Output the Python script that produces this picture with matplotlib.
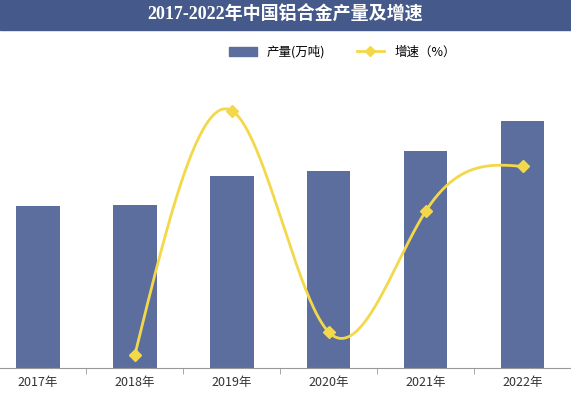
import numpy as np
import matplotlib
matplotlib.use("Agg")
import matplotlib.pyplot as plt
from matplotlib.lines import Line2D
from matplotlib.patches import Patch, Rectangle

plt.rcParams["font.family"] = ["Noto Sans CJK SC", "DejaVu Sans"]

YEARS = ["2017年", "2018年", "2019年", "2020年", "2021年", "2022年"]
OUTPUT = [810, 815, 960, 985, 1085, 1235]       # 产量 (万吨), estimated
GROWTH = [None, 0.7, 14.3, 2.0, 8.7, 11.2]      # 增速 (%), estimated
BAR_C = "#5b6e9e"
LINE_C = "#f3d84a"


def natural_spline(x, y, n=300):
    x = np.asarray(x, float)
    y = np.asarray(y, float)
    m = len(x)
    h = np.diff(x)
    A = np.zeros((m, m))
    b = np.zeros(m)
    A[0, 0] = A[-1, -1] = 1
    for i in range(1, m - 1):
        A[i, i - 1] = h[i - 1]
        A[i, i] = 2 * (h[i - 1] + h[i])
        A[i, i + 1] = h[i]
        b[i] = 6 * ((y[i + 1] - y[i]) / h[i] - (y[i] - y[i - 1]) / h[i - 1])
    M = np.linalg.solve(A, b)
    xs = np.linspace(x[0], x[-1], n)
    idx = np.clip(np.searchsorted(x, xs) - 1, 0, m - 2)
    x0, x1 = x[idx], x[idx + 1]
    hh = x1 - x0
    ys = (M[idx] * (x1 - xs) ** 3 / (6 * hh) + M[idx + 1] * (xs - x0) ** 3 / (6 * hh)
          + (y[idx] / hh - M[idx] * hh / 6) * (x1 - xs)
          + (y[idx + 1] / hh - M[idx + 1] * hh / 6) * (xs - x0))
    return xs, ys


fig = plt.figure(figsize=(5.71, 4.0), dpi=100)
fig.patches.append(Rectangle((0, 1 - 30 / 400), 1, 30 / 400, transform=fig.transFigure,
                             color="#45598a", zorder=0))
fig.text(0.5, 1 - 15 / 400, "2017-2022年中国铝合金产量及增速", ha="center", va="center",
         color="white", fontsize=13, fontweight="bold",
         family=["Liberation Serif", "Noto Sans CJK SC"])

ax = fig.add_axes([0, 32 / 400, 1, 308 / 400])
x = np.arange(len(YEARS))
ax.bar(x, OUTPUT, width=0.45, color=BAR_C, zorder=2)
ax.set_xlim(-0.39, 5.5)
ax.set_ylim(0, 1540)
ax.set_yticks([])
ax.set_xticks(x)
ax.set_xticklabels(YEARS, fontsize=9, color="#333333")
ax.set_xticks(x[:-1] + 0.5, minor=True)
ax.tick_params(axis="x", which="major", length=0, pad=6)
ax.tick_params(axis="x", which="minor", length=4, color="#999999")
for s in ["top", "left", "right"]:
    ax.spines[s].set_visible(False)
ax.spines["bottom"].set_color("#999999")

ax2 = ax.twinx()
gx = [i for i, g in enumerate(GROWTH) if g is not None]
gy = [g for g in GROWTH if g is not None]
sx, sy = natural_spline(gx, gy)
ax2.plot(sx, sy, color=LINE_C, lw=2, zorder=3)
ax2.plot(gx, gy, "D", color=LINE_C, ms=6, zorder=4)
ax2.set_ylim(0, 308 / 18)
ax2.set_yticks([])
for s in ["top", "left", "right", "bottom"]:
    ax2.spines[s].set_visible(False)

handles = [Patch(color=BAR_C), Line2D([], [], color=LINE_C, lw=2, marker="D", ms=5)]
fig.legend(handles, ["产量(万吨)", "增速（%）"], loc="center", bbox_to_anchor=(0.6, 1 - 52 / 400),
           ncol=2, frameon=False, fontsize=9, handlelength=2.2, columnspacing=2.5)

fig.savefig("out.png", dpi=100)
